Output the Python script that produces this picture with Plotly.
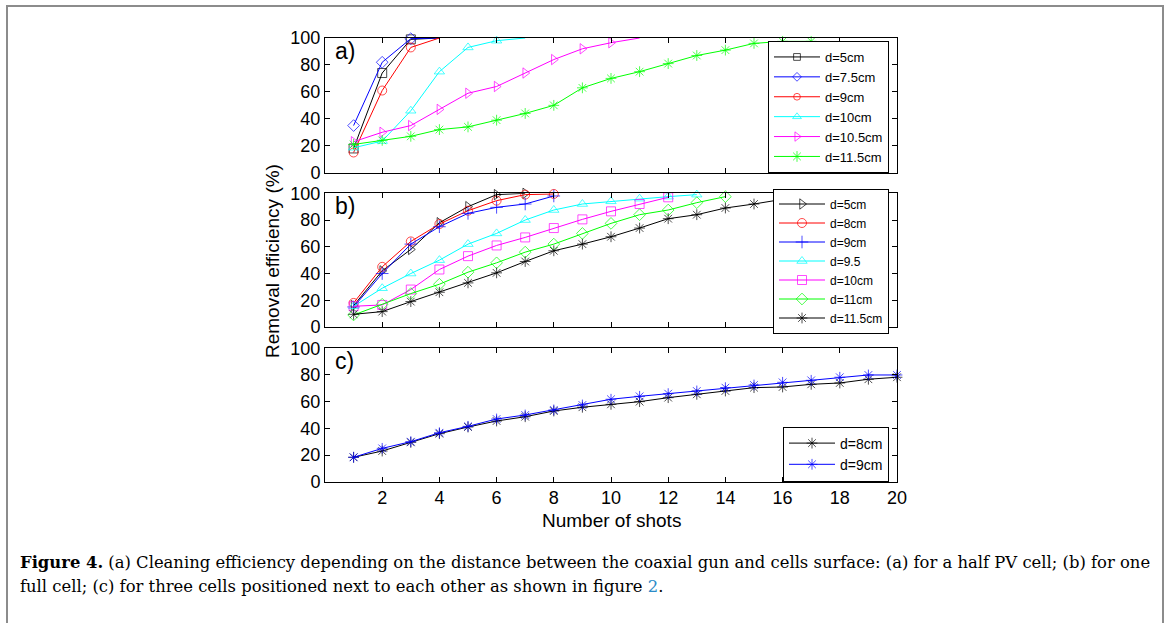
import plotly.graph_objects as go

W, H = 1170, 623

# ---------------- data ----------------
# panel a) half PV cell
a_names = ["d=5cm", "d=7.5cm", "d=9cm", "d=10cm", "d=10.5cm", "d=11.5cm"]
a_d5 = [18, 74, 99, 100]
a_d75 = [35, 82, 99.5, 100]
a_d9 = [15, 61, 93, 100]
a_d10 = [18.5, 23.5, 46, 75, 93, 98, 100]
a_d105 = [23, 30, 35, 47, 59, 64, 74, 84, 92, 96.5, 100]
a_d115 = [21, 24, 27, 32, 34, 39, 44, 50, 63, 70, 75, 81, 87, 91, 96, 97.5, 97.5]

# panel b) one full cell
b_names = ["d=5cm", "d=8cm", "d=9cm", "d=9.5", "d=10cm", "d=11cm", "d=11.5cm"]
b_d5 = [16, 42, 58, 78, 90, 99, 100]
b_d8 = [18, 45, 64, 77, 87, 94.5, 99, 99.5]
b_d9 = [15, 40, 62, 75, 85, 89.5, 92, 98]
b_d95 = [15.5, 29, 40, 50, 62, 70, 80, 87.5, 92, 94, 96, 97.5, 99]
b_d10 = [15.5, 16.5, 28, 43, 53, 61, 67, 74, 80.5, 86.5, 92, 97]
b_d11 = [9, 17, 25, 32, 41, 48, 56, 62, 70, 77.5, 84, 87.5, 93, 97.5]
b_d115 = [9.5, 11.5, 19, 26, 33, 40.5, 49, 57, 62, 67.5, 74, 81, 84, 89, 92, 95.5, 98, 98.7]

# panel c) three cells
c_names = ["d=8cm", "d=9cm"]
c_d8 = [18.3, 23, 29.5, 36, 41, 45.5, 48.7, 53, 55.8, 58, 60, 63, 65.5, 68, 70.5, 71, 73, 74, 76.8, 78.3]
c_d9 = [18.3, 25, 30, 36.7, 41.5, 47, 50, 53.8, 57.5, 61.8, 64, 66, 68, 70.5, 72.5, 74.5, 76, 78.3, 80, 80]

x_ticks = [2, 4, 6, 8, 10, 12, 14, 16, 18, 20]
y_ticks = [0, 20, 40, 60, 80, 100]

# ---------------- styles ----------------
FONT = "Liberation Sans, Arial, sans-serif"
SERIF = "DejaVu Serif, serif"
a_style = [("black", "square-open"), ("blue", "diamond-open"), ("red", "circle-open"),
           ("cyan", "triangle-up-open"), ("magenta", "triangle-right-open"), ("#00ff00", "asterisk-open")]
b_style = [("black", "triangle-right-open"), ("red", "circle-open"), ("blue", "cross-thin-open"),
           ("cyan", "triangle-up-open"), ("magenta", "square-open"), ("#00ff00", "diamond-open"),
           ("black", "asterisk-open")]
c_style = [("black", "asterisk-open"), ("blue", "asterisk-open")]

fig = go.Figure()


def add(series, names, styles, xa, ya, leg, hide_full=False):
    for y, name, (col, sym) in zip(series, names, styles):
        x = list(range(1, len(y) + 1))
        size = [0 if (hide_full and v >= 100) else 9 for v in y]
        fig.add_trace(go.Scatter(
            x=x, y=y, name=name, mode="lines+markers",
            line=dict(color=col, width=1),
            marker=dict(symbol=sym, size=size, color=col, line=dict(color=col, width=1)),
            xaxis=xa, yaxis=ya, legend=leg, cliponaxis=False))


add([a_d5, a_d75, a_d9, a_d10, a_d105, a_d115], a_names, a_style, "x", "y", "legend", hide_full=True)
add([b_d5, b_d8, b_d9, b_d95, b_d10, b_d11, b_d115], b_names, b_style, "x2", "y2", "legend2")
add([c_d8, c_d9], c_names, c_style, "x3", "y3", "legend3")

X0, X1 = 325 / W, 897 / W
doms = [(38, 172.7), (193.3, 327), (348.3, 481.7)]


def px_y(p):
    return 1 - p / H


def xaxis(anchor, labels):
    return dict(domain=[X0, X1], range=[0, 20], tickvals=x_ticks, ticks="inside", ticklen=5,
                showline=True, linecolor="black", linewidth=1, mirror="ticks", showgrid=False,
                zeroline=False, showticklabels=labels, anchor=anchor, automargin=False,
                tickfont=dict(family=FONT, size=18, color="black"), tickcolor="black")


def yaxis(anchor, dom):
    return dict(domain=[px_y(dom[1]), px_y(dom[0])], range=[0, 100], tickvals=y_ticks,
                ticks="inside", ticklen=5, showline=True, linecolor="black", linewidth=1,
                mirror="ticks", showgrid=False, zeroline=False, anchor=anchor, automargin=False,
                tickfont=dict(family=FONT, size=18, color="black"), tickcolor="black")


def legend(center_px, size):
    return dict(x=889 / W, xanchor="right", y=px_y(center_px), yanchor="middle",
                bordercolor="black", borderwidth=1, bgcolor="white",
                font=dict(family=FONT, size=size, color="black"), tracegroupgap=0,
                itemwidth=46)


def note(text, xp, yp, size, family=FONT, anchor="left", angle=0):
    return dict(text=text, x=xp / W, y=px_y(yp), xref="paper", yref="paper", xanchor=anchor,
                yanchor="middle", showarrow=False, textangle=angle,
                font=dict(family=family, size=size, color="black"))


annotations = [
    note("a)", 333, 51, 23),
    note("b)", 333, 206, 23),
    note("c)", 333, 361, 23),
    note("Removal efficiency (%)", 272, 261, 19, anchor="center", angle=-90),
    note("Number of shots", 611, 520, 19, anchor="center"),
    note("<b>Figure 4.</b> (a) Cleaning efficiency depending on the distance between the coaxial gun "
         "and cells surface: (a) for a half PV cell; (b) for one", 18, 562, 16.4, family=SERIF),
    note("full cell; (c) for three cells positioned next to each other as shown in figure "
         "<span style='color:#2b8bc8'>2</span>.", 18, 586, 16.4, family=SERIF),
]

fig.update_layout(
    width=W, height=H, margin=dict(l=0, r=0, t=0, b=0, pad=0, autoexpand=False),
    paper_bgcolor="white", plot_bgcolor="white",
    xaxis=xaxis("y", False), yaxis=yaxis("x", doms[0]),
    xaxis2=xaxis("y2", False), yaxis2=yaxis("x2", doms[1]),
    xaxis3=xaxis("y3", True), yaxis3=yaxis("x3", doms[2]),
    legend=legend(107, 13), legend2=legend(261, 12), legend3=legend(454, 14),
    annotations=annotations,
    shapes=[dict(type="rect", xref="paper", yref="paper", x0=7 / W, x1=1163 / W,
                 y0=-0.1, y1=px_y(6), line=dict(color="#8c8c8c", width=2))],
)

fig.write_html("out.html", post_script="document.body.style.margin='0';document.body.style.overflow='hidden';")
